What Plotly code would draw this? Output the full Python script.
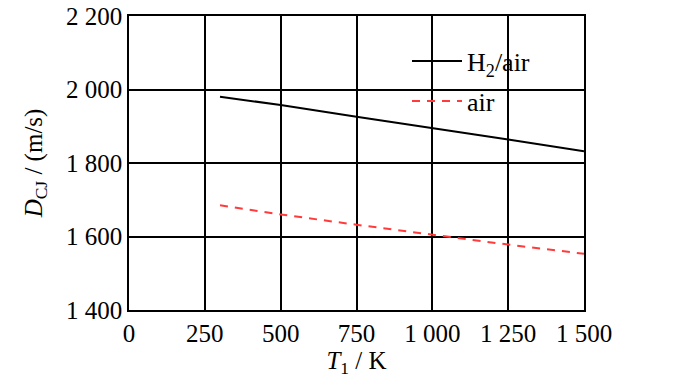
import plotly.graph_objects as go

T1 = [300, 500, 750, 1000, 1250, 1500]
D_h2_air = [1980, 1958, 1926, 1896, 1864, 1832]
D_air = [1685, 1660, 1632, 1604, 1578, 1553]
x_ticks = [0, 250, 500, 750, 1000, 1250, 1500]
y_ticks = [1400, 1600, 1800, 2000, 2200]

FONT = "Liberation Serif"

fig = go.Figure()
fig.add_trace(go.Scatter(x=T1, y=D_h2_air, mode="lines", name="H<sub>2</sub>/air",
                         line=dict(color="black", width=2), legend="legend"))
fig.add_trace(go.Scatter(x=T1, y=D_air, mode="lines", name="air",
                         line=dict(color="#ff3b3b", width=2, dash="8px,7px"), legend="legend2"))

axis_common = dict(showgrid=True, gridcolor="black", gridwidth=1.6,
                   showline=True, linecolor="black", linewidth=1.6, mirror=True,
                   zeroline=False, ticks="", separatethousands=True,
                   ticklabeloverflow="allow",
                   tickfont=dict(family=FONT, size=25, color="black"))

fig.update_xaxes(range=[0, 1500], tickvals=x_ticks, **axis_common,
                 title=dict(text="<i>T</i><sub>1</sub> / K", font=dict(family=FONT, size=25, color="black"),
                            standoff=0))
fig.update_yaxes(range=[1400, 2200], tickvals=y_ticks, **axis_common,
                 title=dict(text="<i>D</i><sub>CJ</sub> / (m/s)", font=dict(family=FONT, size=25, color="black"),
                            standoff=16))

leg = dict(bgcolor="rgba(0,0,0,0)", borderwidth=0, xanchor="left", yanchor="middle",
           font=dict(family=FONT, size=26, color="black"), itemwidth=50)
fig.update_layout(
    width=697, height=380,
    margin=dict(l=129, r=113, t=16, b=70, autoexpand=False),
    paper_bgcolor="white", plot_bgcolor="white",
    separators=". ",
    showlegend=True,
    legend=dict(**leg, x=(407 - 129) / 455, y=(310 - 61) / 294),
    legend2=dict(**leg, x=(407 - 129) / 455, y=(310 - 101) / 294),
)

fig.write_html("out.html",
               config={"displayModeBar": False},
               post_script="document.body.style.margin='0';document.body.style.overflow='hidden';")
